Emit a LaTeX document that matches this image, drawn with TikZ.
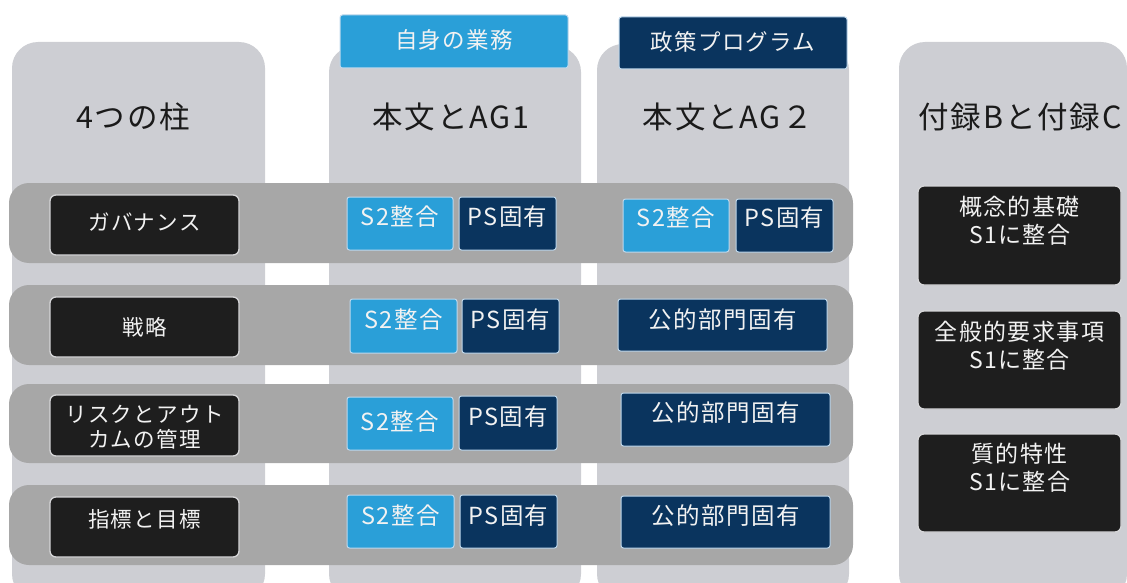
\documentclass[tikz,border=0pt]{standalone}
\usepackage{fontspec}
\newfontfamily\jp[LetterSpace=6]{Noto Sans CJK JP}
\definecolor{colgray}{HTML}{CDCED3}
\definecolor{bandgray}{HTML}{A7A7A7}
\definecolor{boxblack}{HTML}{1E1E1E}
\definecolor{skyblue}{HTML}{2A9FD8}
\definecolor{navyblue}{HTML}{0A345E}
\definecolor{edgelight}{HTML}{D6D6D8}
\definecolor{edgeblue}{HTML}{BFD8EC}
\definecolor{titlecol}{HTML}{1A1A1A}
\definecolor{txtwhite}{HTML}{F2F2F2}
\tikzset{
  x=1pt, y=-1pt,
  colbox/.style={fill=colgray, draw=none, rounded corners=26pt},
  bandbox/.style={fill=bandgray, draw=none, rounded corners=20pt},
  blkbox/.style={fill=boxblack, draw=edgelight, line width=1.3pt, rounded corners=6pt},
  skybox/.style={fill=skyblue, draw=edgeblue, line width=1pt, rounded corners=2.5pt},
  navybox/.style={fill=navyblue, draw=edgeblue, line width=1pt, rounded corners=2.5pt},
  title/.style={text=titlecol, font=\jp\fontsize{30.5}{34}\selectfont, inner sep=0pt},
  tabtxt/.style={text=txtwhite, font=\jp\fontsize{22.5}{26}\selectfont, inner sep=0pt},
  rowtxt/.style={text=txtwhite, font=\jp\fontsize{21.5}{25}\selectfont, align=center, inner sep=0pt},
  celltxt/.style={text=txtwhite, font=\jp\fontsize{23.5}{26}\selectfont, inner sep=0pt},
  sidetxt/.style={text=txtwhite, font=\jp\fontsize{23}{28}\selectfont, align=center, inner sep=0pt},
}
\newcommand\rbox[6]{%
  \node[#2, anchor=north west, inner sep=0pt, outer sep=0pt,
        minimum width={(#5-#3)*1pt}, minimum height={(#6-#4)*1pt}] (#1) at (#3,#4) {};}
\begin{document}
\begin{tikzpicture}
\useasboundingbox (0,0) rectangle (1127,583);
\clip (0,0) rectangle (1127,583);
% columns
\rbox{c1}{colbox}{12}{42}{265}{600}
\rbox{c2}{colbox}{329}{46}{581}{600}
\rbox{c3}{colbox}{597}{44}{849}{600}
\rbox{c4}{colbox}{899}{42}{1127}{600}
% tabs
\rbox{tab1}{skybox}{340}{15}{568}{68}
\node[tabtxt] (tab1t) at (454,40) {自身の業務};
\rbox{tab2}{navybox}{619}{17}{847}{69}
\node[tabtxt] (tab2t) at (733,42) {政策プログラム};
% titles
\node[title] (t1) at (133,117) {4つの柱};
\node[title] (t2) at (451,117) {本文とAG1};
\node[title] (t3) at (728,117) {本文とAG２};
\node[title] (t4) at (1020,117) {付録Bと付録C};
% bands
\rbox{b1}{bandbox}{9}{183}{853}{263}
\rbox{b2}{bandbox}{9}{285}{853}{365}
\rbox{b3}{bandbox}{9}{384}{853}{463}
\rbox{b4}{bandbox}{9}{485}{853}{565}
% row labels
\rbox{r1}{blkbox}{50}{195}{239}{255}
\node[rowtxt] (r1t) at (144.5,222) {ガバナンス};
\rbox{r2}{blkbox}{50}{297}{239}{357}
\node[rowtxt] (r2t) at (144.5,327) {戦略};
\rbox{r3}{blkbox}{50}{395}{239}{456}
\node[rowtxt] (r3t) at (144.5,427.5) {リスクとアウト\\カムの管理};
\rbox{r4}{blkbox}{50}{497}{239}{557}
\node[rowtxt] (r4t) at (144.5,519) {指標と目標};
% column 2 cells
\rbox{a1s}{skybox}{347}{197}{453}{250}
\node[celltxt] (a1st) at (400,217) {S2整合};
\rbox{a1p}{navybox}{459}{197}{556}{250}
\node[celltxt] (a1pt) at (507.5,217) {PS固有};
\rbox{a2s}{skybox}{350}{299}{457}{353}
\node[celltxt] (a2st) at (403.5,320) {S2整合};
\rbox{a2p}{navybox}{462}{299}{559}{353}
\node[celltxt] (a2pt) at (510.5,320) {PS固有};
\rbox{a3s}{skybox}{347}{397}{453}{450}
\node[celltxt] (a3st) at (400,422) {S2整合};
\rbox{a3p}{navybox}{459}{396}{557}{450}
\node[celltxt] (a3pt) at (508,417) {PS固有};
\rbox{a4s}{skybox}{347}{495}{454}{548}
\node[celltxt] (a4st) at (400.5,516) {S2整合};
\rbox{a4p}{navybox}{460}{495}{557}{548}
\node[celltxt] (a4pt) at (508.5,516) {PS固有};
% column 3 cells
\rbox{g1s}{skybox}{623}{199}{729}{252}
\node[celltxt] (g1st) at (676,218) {S2整合};
\rbox{g1p}{navybox}{736}{199}{833}{252}
\node[celltxt] (g1pt) at (784.5,218) {PS固有};
\rbox{g2}{navybox}{618}{299}{827}{351}
\node[celltxt] (g2t) at (722.5,320) {公的部門固有};
\rbox{g3}{navybox}{621}{393}{830}{446}
\node[celltxt] (g3t) at (725.5,413) {公的部門固有};
\rbox{g4}{navybox}{621}{496}{830}{548}
\node[celltxt] (g4t) at (725.5,516) {公的部門固有};
% column 4 boxes
\rbox{k1}{blkbox}{918}{186}{1121}{285}
\node[sidetxt] (k1t) at (1019.5,221) {概念的基礎\\S1に整合};
\rbox{k2}{blkbox}{918}{311}{1121}{409}
\node[sidetxt] (k2t) at (1019.5,345.5) {全般的要求事項\\S1に整合};
\rbox{k3}{blkbox}{918}{434}{1121}{532}
\node[sidetxt] (k3t) at (1019.5,467.5) {質的特性\\S1に整合};
\end{tikzpicture}
\end{document}
